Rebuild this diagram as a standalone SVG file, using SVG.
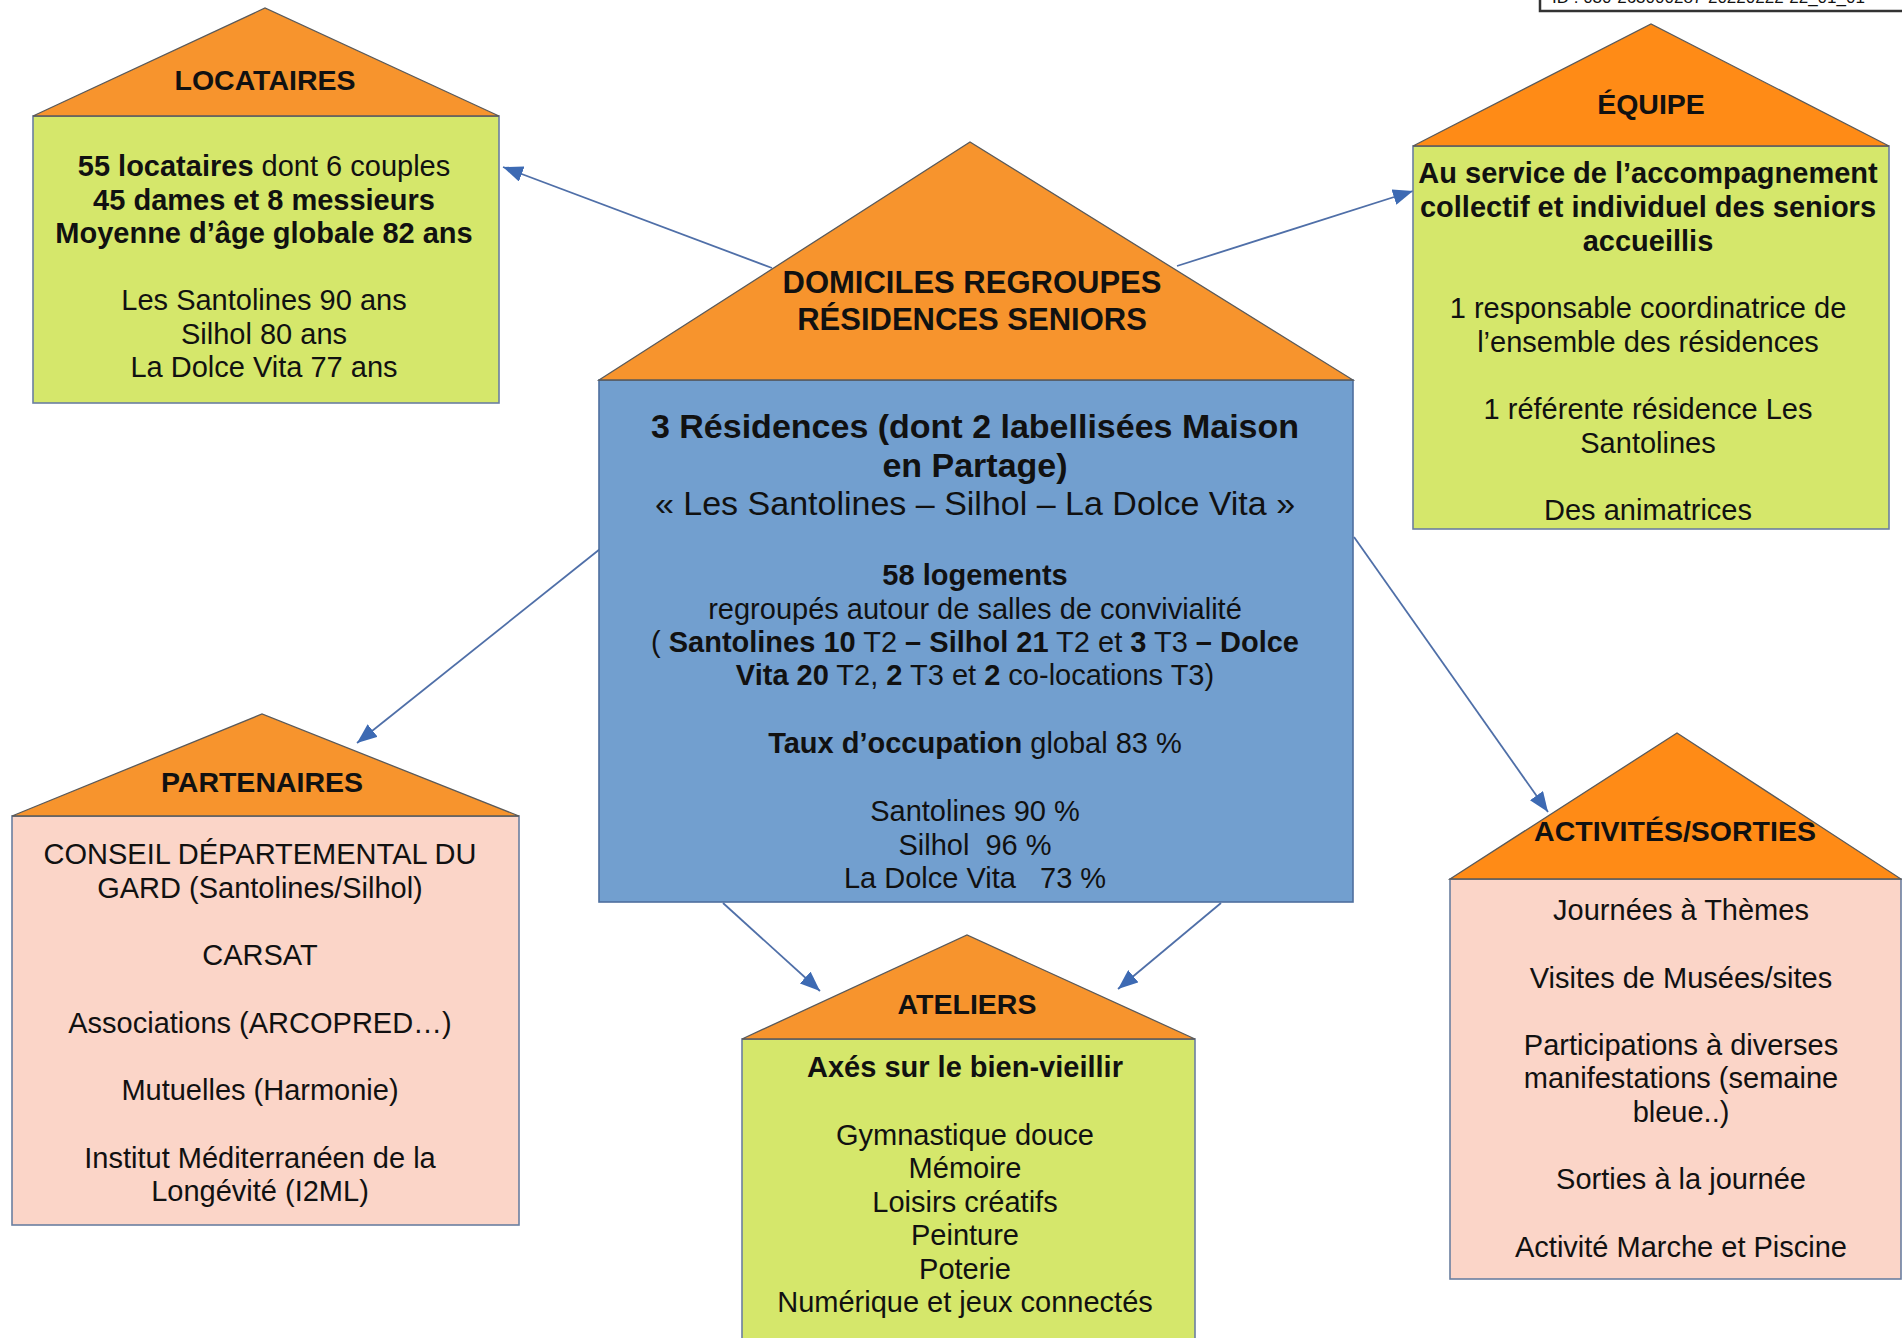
<svg xmlns="http://www.w3.org/2000/svg" width="1902" height="1338" viewBox="0 0 1902 1338">
<defs>
<style>
text{font-family:"Liberation Sans",Arial,sans-serif;fill:#111;text-anchor:middle}
.t{font-size:28.5px;font-weight:bold}
.b{font-size:29px}
.bb{font-size:29px;font-weight:bold}
.big{font-size:34px}
.h{font-size:31px;font-weight:bold}
.k{font-weight:bold}
.roofA{fill:#F7942D;stroke:#5a5a5a;stroke-width:1.3}
.roofB{fill:#FF8B16;stroke:#5a5a5a;stroke-width:1.3}
.green{fill:#D5E76B;stroke:#6B7FA0;stroke-width:1.6}
.pink{fill:#FBD5C8;stroke:#6B7FA0;stroke-width:1.6}
.blue{fill:#729FCF;stroke:#4E6F9E;stroke-width:1.6}
.con{stroke:#4F6FA8;stroke-width:1.8;fill:none;marker-end:url(#arr)}
</style>
<marker id="arr" markerUnits="userSpaceOnUse" markerWidth="22" markerHeight="16" refX="20" refY="8" orient="auto">
<path d="M0,0 L20,8 L0,16 z" fill="#3D6AB3"/>
</marker>
</defs>
<rect width="1902" height="1338" fill="#fff"/>

<g id="id-box">
<rect x="1540" y="-30" width="372" height="41" fill="#fff" stroke="#333" stroke-width="2.5"/>
<text x="1552" y="3" style="font-size:17px;text-anchor:start">ID : 030-263000287-20220222-22_01_01</text>
</g>

<g id="connectors">
<line class="con" x1="772" y1="268" x2="503" y2="167"/>
<line class="con" x1="1177" y1="266" x2="1413" y2="191"/>
<line class="con" x1="600" y1="549" x2="357" y2="743"/>
<line class="con" x1="1354" y1="537" x2="1548" y2="812"/>
<line class="con" x1="723" y1="903" x2="820" y2="991"/>
<line class="con" x1="1221" y1="903" x2="1118" y2="989"/>
</g>

<g id="locataires">
<rect class="green" x="33" y="116" width="466" height="287"/>
<polygon class="roofA" points="33,116 265,8 499,116"/>
<text class="t" x="265" y="90">LOCATAIRES</text>
<text class="b" x="264" y="176"><tspan class="k">55 locataires</tspan> dont 6 couples</text>
<text class="bb" x="264" y="209.5">45 dames et 8 messieurs</text>
<text class="bb" x="264" y="243">Moyenne d’âge globale 82 ans</text>
<text class="b" x="264" y="310">Les Santolines 90 ans</text>
<text class="b" x="264" y="343.5">Silhol 80 ans</text>
<text class="b" x="264" y="377">La Dolce Vita 77 ans</text>
</g>

<g id="equipe">
<rect class="green" x="1413" y="146" width="476" height="383"/>
<polygon class="roofB" points="1413,146 1651,24 1889,146"/>
<text class="t" x="1651" y="114">ÉQUIPE</text>
<text class="bb" x="1648" y="183">Au service de l’accompagnement</text>
<text class="bb" x="1648" y="217">collectif et individuel des seniors</text>
<text class="bb" x="1648" y="251">accueillis</text>
<text class="b" x="1648" y="318">1 responsable coordinatrice de</text>
<text class="b" x="1648" y="352">l’ensemble des résidences</text>
<text class="b" x="1648" y="419">1 référente résidence Les</text>
<text class="b" x="1648" y="453">Santolines</text>
<text class="b" x="1648" y="520">Des animatrices</text>
</g>

<g id="central">
<rect class="blue" x="599" y="380" width="754" height="522"/>
<polygon class="roofA" points="599,380 970,142 1353,380"/>
<text class="h" x="972" y="293">DOMICILES REGROUPES</text>
<text class="h" x="972" y="330">RÉSIDENCES SENIORS</text>
<text class="big k" x="975" y="438">3 Résidences (dont 2 labellisées Maison</text>
<text class="big k" x="975" y="477">en Partage)</text>
<text class="big" x="975" y="515">« Les Santolines – Silhol – La Dolce Vita »</text>
<text class="bb" x="975" y="585">58 logements</text>
<text class="b" x="975" y="619">regroupés autour de salles de convivialité</text>
<text class="b" x="975" y="652">( <tspan class="k">Santolines 10</tspan> T2 <tspan class="k">–</tspan> <tspan class="k">Silhol 21</tspan> T2 et <tspan class="k">3</tspan> T3 <tspan class="k">– Dolce</tspan></text>
<text class="b" x="975" y="685"><tspan class="k">Vita 20</tspan> T2, <tspan class="k">2</tspan> T3 et <tspan class="k">2</tspan> co-locations T3)</text>
<text class="b" x="975" y="753"><tspan class="k">Taux d’occupation</tspan> global 83 %</text>
<text class="b" x="975" y="821">Santolines 90 %</text>
<text class="b" x="975" y="855" xml:space="preserve">Silhol  96 %</text>
<text class="b" x="975" y="888" xml:space="preserve">La Dolce Vita   73 %</text>
</g>

<g id="partenaires">
<rect class="pink" x="12" y="816" width="507" height="409"/>
<polygon class="roofA" points="12,816 262,714 519,816"/>
<text class="t" x="262" y="792">PARTENAIRES</text>
<text class="b" x="260" y="864">CONSEIL DÉPARTEMENTAL DU</text>
<text class="b" x="260" y="897.5">GARD (Santolines/Silhol)</text>
<text class="b" x="260" y="965">CARSAT</text>
<text class="b" x="260" y="1032.5">Associations (ARCOPRED…)</text>
<text class="b" x="260" y="1100">Mutuelles (Harmonie)</text>
<text class="b" x="260" y="1167.5">Institut Méditerranéen de la</text>
<text class="b" x="260" y="1201">Longévité (I2ML)</text>
</g>

<g id="activites">
<rect class="pink" x="1450" y="879" width="451" height="400"/>
<polygon class="roofB" points="1450,879 1677,733 1901,879"/>
<text class="t" x="1675" y="841">ACTIVITÉS/SORTIES</text>
<text class="b" x="1681" y="920">Journées à Thèmes</text>
<text class="b" x="1681" y="987.5">Visites de Musées/sites</text>
<text class="b" x="1681" y="1054.5">Participations à diverses</text>
<text class="b" x="1681" y="1088">manifestations (semaine</text>
<text class="b" x="1681" y="1121.5">bleue..)</text>
<text class="b" x="1681" y="1189">Sorties à la journée</text>
<text class="b" x="1681" y="1257">Activité Marche et Piscine</text>
</g>

<g id="ateliers">
<rect class="green" x="742" y="1039" width="453" height="330"/>
<polygon class="roofA" points="742,1039 967,935 1195,1039"/>
<text class="t" x="967" y="1014">ATELIERS</text>
<text class="bb" x="965" y="1077">Axés sur le bien-vieillir</text>
<text class="b" x="965" y="1144.5">Gymnastique douce</text>
<text class="b" x="965" y="1178">Mémoire</text>
<text class="b" x="965" y="1211.5">Loisirs créatifs</text>
<text class="b" x="965" y="1245">Peinture</text>
<text class="b" x="965" y="1278.5">Poterie</text>
<text class="b" x="965" y="1312">Numérique et jeux connectés</text>
</g>
</svg>
